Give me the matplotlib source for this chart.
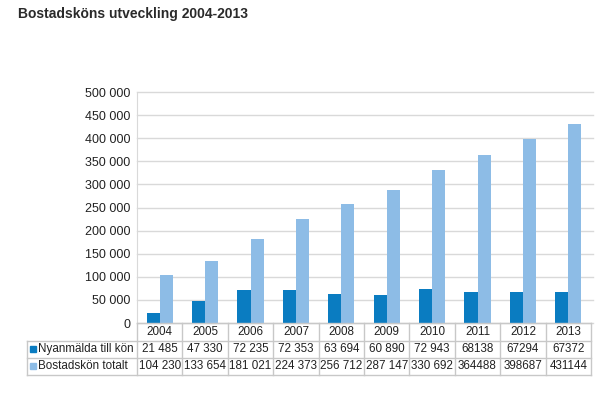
import numpy as np
import matplotlib
matplotlib.use("Agg")
import matplotlib.pyplot as plt
from matplotlib.patches import Rectangle

plt.rcParams['font.family'] = ['Liberation Sans', 'DejaVu Sans']

years = ["2004", "2005", "2006", "2007", "2008", "2009", "2010", "2011", "2012", "2013"]
nyanmalda = [21485, 47330, 72235, 72353, 63694, 60890, 72943, 68138, 67294, 67372]
totalt = [104230, 133654, 181021, 224373, 256712, 287147, 330692, 364488, 398687, 431144]
nyanmalda_txt = ["21 485", "47 330", "72 235", "72 353", "63 694", "60 890", "72 943", "68138", "67294", "67372"]
totalt_txt = ["104 230", "133 654", "181 021", "224 373", "256 712", "287 147", "330 692", "364488", "398687", "431144"]
series_names = ["Nyanmälda till kön", "Bostadskön totalt"]
yticks = np.arange(0, 500001, 50000)

dark = "#0A7CC1"
light = "#8DBCE6"
grid = "#D9D9D9"
txt = "#222222"
W, H = 614, 395

fig = plt.figure(figsize=(W / 100, H / 100), dpi=100)

def px_axes(x0, y0, x1, y1):
    return fig.add_axes([x0 / W, 1 - y1 / H, (x1 - x0) / W, (y1 - y0) / H])

# main chart
ax = px_axes(137, 92, 591, 323)
x = np.arange(len(years))
bw = 0.29
ax.bar(x - bw / 2, nyanmalda, bw, color=dark, zorder=3)
ax.bar(x + bw / 2, totalt, bw, color=light, zorder=3)
ax.set_xlim(-0.5, len(years) - 0.5)
ax.set_ylim(0, 500000)
ax.set_yticks(yticks)
ax.set_yticklabels([f"{v:,}".replace(",", " ") for v in yticks], fontsize=9, color=txt)
ax.tick_params(axis="y", length=0, pad=5)
ax.set_xticks([])
for v in yticks:
    ax.axhline(v, color=grid, lw=1, zorder=1, clip_on=False, xmax=1.005)
for s in ["top", "right", "bottom"]:
    ax.spines[s].set_visible(False)
ax.spines["left"].set_color(grid)

# data table below the chart
tab = px_axes(27, 323, 591, 375)
tab.set_xlim(27, 591)
tab.set_ylim(375, 323)
tab.axis("off")
col_w = (591 - 137) / len(years)
row_y = [323, 341, 358, 375]
tc = "#C8C8C8"
fs = 8.4
for i in range(len(years) + 1):
    xx = 137 + i * col_w
    tab.plot([xx, xx], [323, 375], color=tc, lw=1, clip_on=False)
tab.plot([27, 27], [341, 375], color=tc, lw=1, clip_on=False)
tab.plot([137, 591], [323, 323], color=tc, lw=1, clip_on=False)
for yy in row_y[1:]:
    tab.plot([27, 591], [yy, yy], color=tc, lw=1, clip_on=False)
for i, yr in enumerate(years):
    cx = 137 + (i + 0.5) * col_w
    tab.text(cx, (row_y[0] + row_y[1]) / 2, yr, ha="center", va="center", fontsize=fs, color=txt)
    tab.text(cx, (row_y[1] + row_y[2]) / 2, nyanmalda_txt[i], ha="center", va="center", fontsize=fs, color=txt)
    tab.text(cx, (row_y[2] + row_y[3]) / 2, totalt_txt[i], ha="center", va="center", fontsize=fs, color=txt)
for r, (name, col) in enumerate(zip(series_names, [dark, light])):
    cy = (row_y[r + 1] + row_y[r + 2]) / 2
    tab.add_patch(Rectangle((30, cy - 3), 6, 6, color=col, clip_on=False))
    tab.text(38, cy, name, ha="left", va="center", fontsize=fs, color=txt)

fig.text(18 / W, 1 - 14 / H, "Bostadsköns utveckling 2004-2013", fontsize=10,
         fontweight="bold", color="#2a2a2a", ha="left", va="center")

fig.savefig("out.png", dpi=100)
